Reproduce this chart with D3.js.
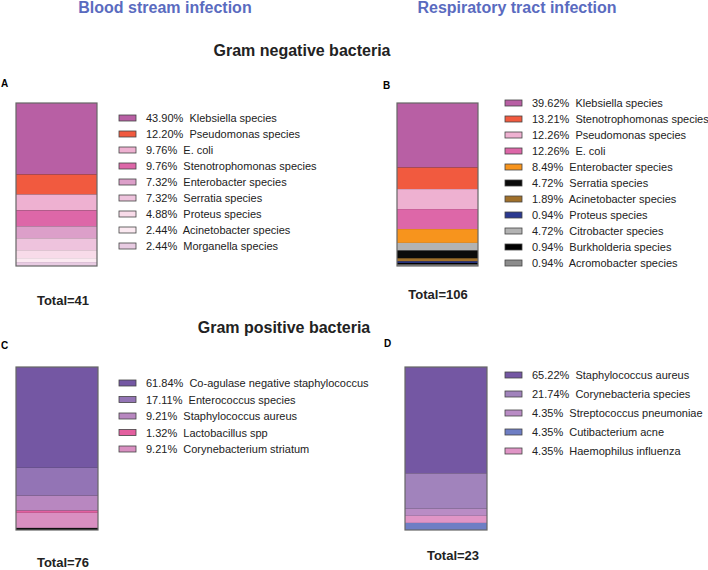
<!DOCTYPE html>
<html>
<head>
<meta charset="utf-8">
<script src="https://cdn.jsdelivr.net/npm/d3@7"></script>
<style>
  body { margin: 0; background: #fff; }
  text { font-family: "Liberation Sans", Arial, sans-serif; }
  .legendText { white-space: pre; font-size: 11px; fill: #222; }
</style>
</head>
<body>
<div id="chart"></div>
<script>
// chart data (percent of isolates)
var negBloodLabels = ["Klebsiella species", "Pseudomonas species", "E. coli", "Stenotrophomonas species",
  "Enterobacter species", "Serratia species", "Proteus species", "Acinetobacter species", "Morganella species"];
var negBloodValues = [43.90, 12.20, 9.76, 9.76, 7.32, 7.32, 4.88, 2.44, 2.44];
var negBloodColors = ["#b85fa4", "#f15a3f", "#eeb1d1", "#dd67a8", "#dc9fc9", "#eec3dd", "#f8dbe9", "#fbe9f1", "#e8cbe2"];
var negBloodOrder = [0, 1, 2, 3, 4, 5, 6, 7, 8];

var negRespLabels = ["Klebsiella species", "Stenotrophomonas species", "Pseudomonas species", "E. coli",
  "Enterobacter species", "Serratia species", "Acinetobacter species", "Proteus species",
  "Citrobacter species", "Burkholderia species", "Acromobacter species"];
var negRespValues = [39.62, 13.21, 12.26, 12.26, 8.49, 4.72, 1.89, 0.94, 4.72, 0.94, 0.94];
var negRespColors = ["#b85fa4", "#f15a3f", "#eeb1d1", "#dd67a8", "#f7941d", "#0b0b0b", "#a0702a", "#2b3990",
  "#b3b3b3", "#000000", "#8c8c8c"];
var negRespOrder = [0, 1, 2, 3, 4, 8, 5, 6, 7, 9, 10];

var posBloodLabels = ["Co-agulase negative staphylococcus", "Enterococcus species", "Staphylococcus aureus",
  "Lactobacillus spp", "Corynebacterium striatum"];
var posBloodValues = [61.84, 17.11, 9.21, 1.32, 9.21];
var posBloodColors = ["#7457a3", "#9374b5", "#b887c0", "#e35f9f", "#d98fc1"];
var posBloodOrder = [0, 1, 2, 3, 4];

var posRespLabels = ["Staphylococcus aureus", "Corynebacteria species", "Streptococcus pneumoniae",
  "Cutibacterium acne", "Haemophilus influenza"];
var posRespValues = [65.22, 21.74, 4.35, 4.35, 4.35];
var posRespColors = ["#7457a3", "#a183bc", "#b98cc5", "#6e7ec4", "#e095c6"];
var posRespOrder = [0, 1, 2, 4, 3];

var totals = [41, 106, 76, 23];

var svgWidth = 708;
var svgHeight = 570;

var svg = d3.select("#chart")
  .append("svg")
  .attr("width", svgWidth)
  .attr("height", svgHeight);

// column titles
svg.append("text")
  .attr("x", 165).attr("y", 13)
  .attr("text-anchor", "middle")
  .attr("font-size", 16).attr("font-weight", "bold")
  .attr("fill", "#5a6bbf")
  .text("Blood stream infection");

svg.append("text")
  .attr("x", 517).attr("y", 13)
  .attr("text-anchor", "middle")
  .attr("font-size", 16).attr("font-weight", "bold")
  .attr("fill", "#5a6bbf")
  .text("Respiratory tract infection");

svg.append("text")
  .attr("x", 302).attr("y", 56)
  .attr("text-anchor", "middle")
  .attr("font-size", 16).attr("font-weight", "bold")
  .attr("fill", "#222")
  .text("Gram negative bacteria");

svg.append("text")
  .attr("x", 284).attr("y", 333)
  .attr("text-anchor", "middle")
  .attr("font-size", 16).attr("font-weight", "bold")
  .attr("fill", "#222")
  .text("Gram positive bacteria");

// one panel = stacked 100% bar + legend + total
function drawPanel(p) {
  var g = svg.append("g");

  var y = d3.scaleLinear()
    .domain([0, 100])
    .range([p.top, p.top + p.h]);

  // stack in the bar's order
  var stacked = [];
  var acc = 0;
  p.order.forEach(function(i) {
    stacked.push({ start: acc, end: acc + p.values[i], color: p.colors[i] });
    acc += p.values[i];
  });

  // background (leftover share shows dark)
  g.append("rect")
    .attr("x", p.left).attr("y", p.top)
    .attr("width", p.w).attr("height", p.h)
    .attr("fill", "#111");

  g.selectAll("rect.seg")
    .data(stacked)
    .enter()
    .append("rect")
    .attr("class", "seg")
    .attr("x", p.left)
    .attr("y", d => y(d.start))
    .attr("width", p.w)
    .attr("height", d => Math.max(0, y(Math.min(d.end, 100)) - y(d.start)))
    .attr("fill", d => d.color);

  g.append("rect")
    .attr("x", p.left).attr("y", p.top)
    .attr("width", p.w).attr("height", p.h)
    .attr("fill", "none")
    .attr("stroke", "#666")
    .attr("stroke-width", 1.2);

  // legend
  var row = d3.scaleLinear()
    .domain([0, 1])
    .range([p.legY, p.legY + p.legStep]);

  var leg = g.selectAll("g.leg")
    .data(p.labels)
    .enter()
    .append("g")
    .attr("class", "leg")
    .attr("transform", (d, i) => `translate(${p.legX}, ${row(i)})`);

  leg.append("rect")
    .attr("x", 0).attr("y", -3)
    .attr("width", 17).attr("height", 6)
    .attr("fill", (d, i) => p.colors[i])
    .attr("stroke", "#444")
    .attr("stroke-width", 0.8);

  leg.append("text")
    .attr("class", "legendText")
    .attr("x", 27).attr("y", 4)
    .text((d, i) => p.values[i].toFixed(2) + "%  " + d);

  // panel letter + total
  g.append("text")
    .attr("x", p.letterX).attr("y", p.letterY)
    .attr("font-size", 10).attr("font-weight", "bold")
    .text(p.letter);

  g.append("text")
    .attr("x", p.totalX).attr("y", p.totalY)
    .attr("text-anchor", "middle")
    .attr("font-size", 13).attr("font-weight", "bold")
    .attr("fill", "#222")
    .text("Total=" + p.total);
}

drawPanel({ letter: "A", letterX: 1, letterY: 87, left: 16, top: 103, w: 81, h: 163,
  labels: negBloodLabels, values: negBloodValues, colors: negBloodColors, order: negBloodOrder,
  legX: 119, legY: 118, legStep: 16, total: totals[0], totalX: 63, totalY: 305 });

drawPanel({ letter: "B", letterX: 383, letterY: 89, left: 397, top: 103, w: 81, h: 163,
  labels: negRespLabels, values: negRespValues, colors: negRespColors, order: negRespOrder,
  legX: 505, legY: 103, legStep: 16, total: totals[1], totalX: 438, totalY: 299 });

drawPanel({ letter: "C", letterX: 1, letterY: 349, left: 16, top: 367, w: 82, h: 163,
  labels: posBloodLabels, values: posBloodValues, colors: posBloodColors, order: posBloodOrder,
  legX: 119, legY: 383, legStep: 16.5, total: totals[2], totalX: 63, totalY: 567 });

drawPanel({ letter: "D", letterX: 384, letterY: 347, left: 405, top: 367, w: 82, h: 163,
  labels: posRespLabels, values: posRespValues, colors: posRespColors, order: posRespOrder,
  legX: 505, legY: 375, legStep: 19, total: totals[3], totalX: 453, totalY: 560 });
</script>
</body>
</html>
